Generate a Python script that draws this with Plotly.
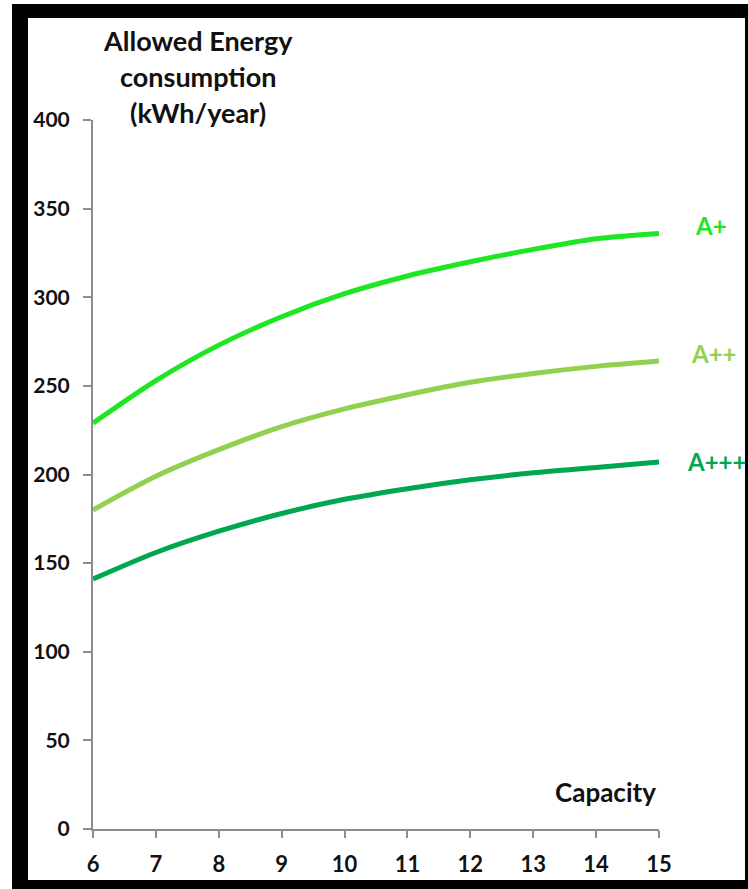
import plotly.graph_objects as go

capacity = [6, 7, 8, 9, 10, 11, 12, 13, 14, 15]
a_plus = [229, 253, 273, 289, 302, 312, 320, 327, 333, 336]
a_plus2 = [180, 199, 214, 227, 237, 245, 252, 257, 261, 264]
a_plus3 = [141, 156, 168, 178, 186, 192, 197, 201, 204, 207]
series_names = ["A+", "A++", "A+++"]
series_colors = ["#1EE622", "#92D050", "#00A650"]
y_ticks = [0, 50, 100, 150, 200, 250, 300, 350, 400]

W, H = 748, 889
def px(x):
    return x / W
def py(y):
    return 1 - y / H

FONT = "Lato, 'Open Sans', sans-serif"

fig = go.Figure()
for name, vals, col in zip(series_names, [a_plus, a_plus2, a_plus3], series_colors):
    fig.add_trace(go.Scatter(x=capacity, y=vals, mode="lines", name=name,
                             line=dict(color=col, width=5, shape="spline", smoothing=0.8)))

# frame
fig.add_shape(type="rect", xref="paper", yref="paper", x0=px(12), x1=px(748), y0=py(889), y1=py(4),
              fillcolor="black", line=dict(width=0), layer="below")
fig.add_shape(type="rect", xref="paper", yref="paper", x0=px(28), x1=px(745), y0=py(880), y1=py(18),
              fillcolor="white", line=dict(width=0), layer="below")

ann_font = dict(family=FONT, size=27, color="#111111")
for txt, yy in [("Allowed Energy", 41), ("consumption", 77), ("(kWh/year)", 113)]:
    fig.add_annotation(text="<b>%s</b>" % txt, xref="paper", yref="paper", x=px(198), y=py(yy),
                       xanchor="center", yanchor="middle", showarrow=False, font=ann_font)
fig.add_annotation(text="<b>Capacity</b>", xref="paper", yref="paper", x=px(605), y=py(792),
                   xanchor="center", yanchor="middle", showarrow=False,
                   font=dict(family=FONT, size=26, color="#111111"))

label_pos = [(693, 226, "left"), (689, 353, "left"), (685, 462, "left")]
for name, col, (lx, ly, anc) in zip(series_names, series_colors, label_pos):
    fig.add_annotation(text="<b>%s</b>" % name, xref="paper", yref="paper", x=px(lx), y=py(ly),
                       xanchor=anc, yanchor="middle", showarrow=False,
                       font=dict(family=FONT, size=24, color=col))

fig.update_layout(
    width=W, height=H, margin=dict(l=0, r=0, t=0, b=0, autoexpand=False),
    paper_bgcolor="white", plot_bgcolor="rgba(0,0,0,0)", showlegend=False,
    font=dict(family=FONT, color="#111111"),
    xaxis=dict(domain=[px(93), px(659)], range=[6, 15], tickvals=capacity, automargin=False,
               ticktext=["<b>%d</b>" % c for c in capacity],
               showgrid=False, zeroline=False, showline=True, linecolor="#8c8c8c", linewidth=2,
               ticks="outside", ticklen=7, tickcolor="#8c8c8c", tickwidth=2,
               tickfont=dict(family=FONT, size=22, color="#111111"), ticklabelstandoff=8),
    yaxis=dict(domain=[py(829), py(120)], range=[0, 400], tickvals=y_ticks, automargin=False,
               ticktext=["<b>%d</b>" % v for v in y_ticks],
               showgrid=False, zeroline=False, showline=True, linecolor="#8c8c8c", linewidth=2,
               ticks="outside", ticklen=8, tickcolor="#8c8c8c", tickwidth=2,
               tickfont=dict(family=FONT, size=21, color="#111111"), ticklabelstandoff=9),
)

fig.write_html("out.html", config={"displayModeBar": False},
               post_script="document.body.style.margin='0px';")
